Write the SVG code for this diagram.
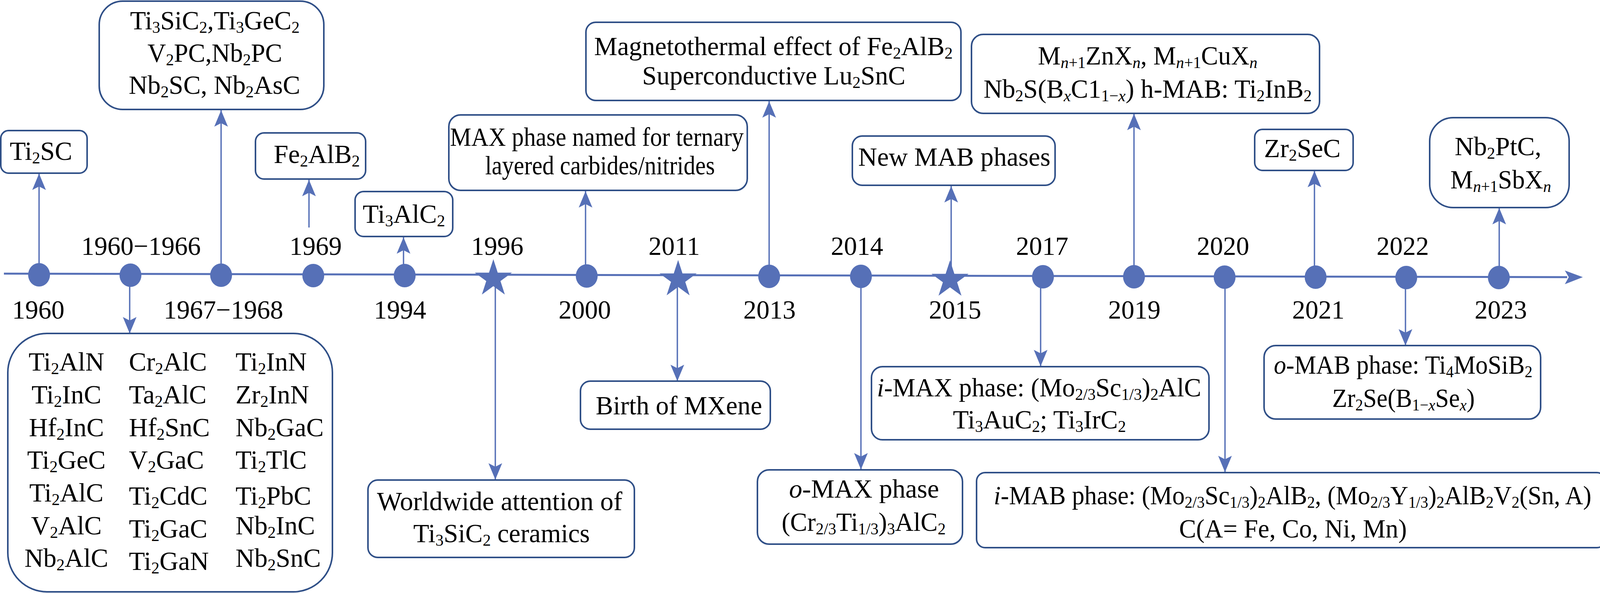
<svg xmlns="http://www.w3.org/2000/svg" xmlns:xlink="http://www.w3.org/1999/xlink" width="4116" height="1517" viewBox="0 0 4116 1517">
<style>
text{font-family:"Liberation Serif","Times New Roman",serif;font-size:67px;fill:#000}
.m{text-anchor:middle}
.s{font-size:42px;baseline-shift:-9px}
.i{font-style:italic}
.box{fill:#fff;stroke:#2F4F87;stroke-width:4}
.con{stroke:#5670B7;stroke-width:3.5;fill:none}
.up{marker-end:url(#ah)}
.dot{fill:#5670B7}
</style>
<defs>
<marker id="ah" markerUnits="userSpaceOnUse" markerWidth="50" markerHeight="40" viewBox="-44 -20 46 40" refX="0" refY="0" orient="auto">
<path d="M0,0 L-42,-17.5 L-33,0 L-42,17.5 Z" fill="#5670B7"/>
</marker>
<path id="star" d="M0,-50 L11.2,-15.5 L47.6,-15.5 L18.2,5.9 L29.4,40.5 L0,19.1 L-29.4,40.5 L-18.2,5.9 L-47.6,-15.5 L-11.2,-15.5 Z" fill="#5670B7"/>
</defs>
<rect width="4116" height="1517" fill="#fff"/>

<g id="connectors">
<line class="con up" x1="100" y1="700" x2="100" y2="444"/>
<line class="con up" x1="566" y1="700" x2="566" y2="282"/>
<line class="con up" x1="791" y1="582" x2="791" y2="460"/>
<line class="con up" x1="1033" y1="702" x2="1033" y2="607"/>
<line class="con up" x1="1499" y1="703" x2="1499" y2="489"/>
<line class="con up" x1="1969" y1="704" x2="1969" y2="259"/>
<line class="con up" x1="2435" y1="705" x2="2435" y2="476"/>
<line class="con up" x1="2903" y1="706" x2="2903" y2="291"/>
<line class="con up" x1="3365" y1="707" x2="3365" y2="437"/>
<line class="con up" x1="3838" y1="708" x2="3838" y2="532"/>
<line class="con up" x1="332" y1="701" x2="332" y2="853"/>
<line class="con up" x1="1268" y1="710" x2="1268" y2="1227"/>
<line class="con up" x1="1734" y1="712" x2="1734" y2="975"/>
<line class="con up" x1="2204" y1="705" x2="2204" y2="1201"/>
<line class="con up" x1="2664" y1="706" x2="2664" y2="937"/>
<line class="con up" x1="3136" y1="707" x2="3136" y2="1208"/>
<line class="con up" x1="3598" y1="708" x2="3598" y2="884"/>
</g>

<g id="axis">
<line x1="10" y1="700" x2="4012" y2="709" stroke="#5670B7" stroke-width="5"/>
<path d="M4052,709 L4006,692 L4016,709 L4006,727 Z" fill="#5670B7"/>
<ellipse class="dot" cx="100" cy="703" rx="28" ry="30"/>
<ellipse class="dot" cx="334" cy="704" rx="28" ry="30"/>
<ellipse class="dot" cx="566" cy="704" rx="28" ry="30"/>
<ellipse class="dot" cx="802" cy="705" rx="28" ry="30"/>
<ellipse class="dot" cx="1036" cy="705" rx="28" ry="30"/>
<use xlink:href="#star" x="1263" y="713"/>
<ellipse class="dot" cx="1502" cy="706" rx="28" ry="30"/>
<use xlink:href="#star" x="1736" y="715"/>
<ellipse class="dot" cx="1969" cy="707" rx="28" ry="30"/>
<ellipse class="dot" cx="2204" cy="707" rx="28" ry="30"/>
<use xlink:href="#star" x="2432" y="716"/>
<ellipse class="dot" cx="2670" cy="708" rx="28" ry="30"/>
<ellipse class="dot" cx="2903" cy="708" rx="28" ry="30"/>
<ellipse class="dot" cx="3135" cy="709" rx="28" ry="30"/>
<ellipse class="dot" cx="3368" cy="709" rx="28" ry="30"/>
<ellipse class="dot" cx="3600" cy="710" rx="28" ry="30"/>
<ellipse class="dot" cx="3837" cy="710" rx="28" ry="30"/>
</g>

<g id="years">
<text class="m" x="361" y="652">1960−1966</text>
<text class="m" x="808" y="652">1969</text>
<text class="m" x="1273" y="652">1996</text>
<text class="m" x="1726" y="652">2011</text>
<text class="m" x="2194" y="652">2014</text>
<text class="m" x="2668" y="652">2017</text>
<text class="m" x="3131" y="652">2020</text>
<text class="m" x="3591" y="652">2022</text>
<text class="m" x="98" y="815">1960</text>
<text class="m" x="572" y="815">1967−1968</text>
<text class="m" x="1024" y="815">1994</text>
<text class="m" x="1497" y="815">2000</text>
<text class="m" x="1970" y="815">2013</text>
<text class="m" x="2445" y="815">2015</text>
<text class="m" x="2904" y="815">2019</text>
<text class="m" x="3375" y="815">2021</text>
<text class="m" x="3842" y="815">2023</text>
</g>

<g id="n-ti2sc">
<rect class="box" x="2" y="334" width="221" height="109" rx="20"/>
<text class="m" x="105" y="409">Ti<tspan class="s">2</tspan>SC</text>
</g>

<g id="n-1967">
<rect class="box" x="254" y="3" width="575" height="277" rx="60"/>
<text class="m" x="550" y="75" textLength="434" lengthAdjust="spacingAndGlyphs">Ti<tspan class="s">3</tspan>SiC<tspan class="s">2</tspan>,Ti<tspan class="s">3</tspan>GeC<tspan class="s">2</tspan></text>
<text class="m" x="550" y="158" textLength="345" lengthAdjust="spacingAndGlyphs">V<tspan class="s">2</tspan>PC,Nb<tspan class="s">2</tspan>PC</text>
<text class="m" x="549" y="240" textLength="439" lengthAdjust="spacingAndGlyphs">Nb<tspan class="s">2</tspan>SC, Nb<tspan class="s">2</tspan>AsC</text>
</g>

<g id="n-fe2alb2">
<rect class="box" x="654" y="340" width="282" height="118" rx="22"/>
<text class="m" x="811" y="417">Fe<tspan class="s">2</tspan>AlB<tspan class="s">2</tspan></text>
</g>

<g id="n-ti3alc2">
<rect class="box" x="909" y="490" width="250" height="115" rx="22"/>
<text class="m" x="1034" y="570">Ti<tspan class="s">3</tspan>AlC<tspan class="s">2</tspan></text>
</g>

<g id="n-max">
<rect class="box" x="1149" y="294" width="764" height="193" rx="30"/>
<text class="m" x="1528" y="373" textLength="752" lengthAdjust="spacingAndGlyphs">MAX phase named for ternary</text>
<text class="m" x="1536" y="446" textLength="588" lengthAdjust="spacingAndGlyphs">layered carbides/nitrides</text>
</g>

<g id="n-magneto">
<rect class="box" x="1500" y="57" width="960" height="200" rx="25"/>
<text class="m" x="1980" y="141" textLength="918" lengthAdjust="spacingAndGlyphs">Magnetothermal effect of Fe<tspan class="s">2</tspan>AlB<tspan class="s">2</tspan></text>
<text class="m" x="1981" y="216" textLength="674" lengthAdjust="spacingAndGlyphs">Superconductive Lu<tspan class="s">2</tspan>SnC</text>
</g>

<g id="n-newmab">
<rect class="box" x="2182" y="348" width="519" height="126" rx="25"/>
<text class="m" x="2443" y="424" textLength="492" lengthAdjust="spacingAndGlyphs">New MAB phases</text>
</g>

<g id="n-2019">
<rect class="box" x="2487" y="88" width="891" height="202" rx="30"/>
<text class="m" x="2938" y="165" textLength="562" lengthAdjust="spacingAndGlyphs">M<tspan class="s"><tspan class="i">n</tspan>+1</tspan>ZnX<tspan class="s i">n</tspan>, M<tspan class="s"><tspan class="i">n</tspan>+1</tspan>CuX<tspan class="s i">n</tspan></text>
<text class="m" x="2938" y="250" textLength="840" lengthAdjust="spacingAndGlyphs">Nb<tspan class="s">2</tspan>S(B<tspan class="s i">x</tspan>C1<tspan class="s">1−<tspan class="i">x</tspan></tspan>) h-MAB: Ti<tspan class="s">2</tspan>InB<tspan class="s">2</tspan></text>
</g>

<g id="n-zr2sec">
<rect class="box" x="3212" y="331" width="252" height="105" rx="20"/>
<text class="m" x="3334" y="402">Zr<tspan class="s">2</tspan>SeC</text>
</g>

<g id="n-2023">
<rect class="box" x="3660" y="301" width="357" height="230" rx="60"/>
<text class="m" x="3835" y="397" textLength="222" lengthAdjust="spacingAndGlyphs">Nb<tspan class="s">2</tspan>PtC,</text>
<text class="m" x="3842" y="482" textLength="258" lengthAdjust="spacingAndGlyphs">M<tspan class="s"><tspan class="i">n</tspan>+1</tspan>SbX<tspan class="s i">n</tspan></text>
</g>

<g id="n-1960-66">
<rect class="box" x="20" y="853" width="831" height="661" rx="100"/>
<text class="m" x="170" y="948">Ti<tspan class="s">2</tspan>AlN</text>
<text class="m" x="170" y="1032">Ti<tspan class="s">2</tspan>InC</text>
<text class="m" x="170" y="1116">Hf<tspan class="s">2</tspan>InC</text>
<text class="m" x="170" y="1199">Ti<tspan class="s">2</tspan>GeC</text>
<text class="m" x="170" y="1283">Ti<tspan class="s">2</tspan>AlC</text>
<text class="m" x="170" y="1367">V<tspan class="s">2</tspan>AlC</text>
<text class="m" x="170" y="1450">Nb<tspan class="s">2</tspan>AlC</text>
<text x="330" y="948">Cr<tspan class="s">2</tspan>AlC</text>
<text x="330" y="1032">Ta<tspan class="s">2</tspan>AlC</text>
<text x="330" y="1116">Hf<tspan class="s">2</tspan>SnC</text>
<text x="330" y="1199">V<tspan class="s">2</tspan>GaC</text>
<text x="330" y="1291">Ti<tspan class="s">2</tspan>CdC</text>
<text x="330" y="1375">Ti<tspan class="s">2</tspan>GaC</text>
<text x="330" y="1458">Ti<tspan class="s">2</tspan>GaN</text>
<text x="603" y="948">Ti<tspan class="s">2</tspan>InN</text>
<text x="603" y="1032">Zr<tspan class="s">2</tspan>InN</text>
<text x="603" y="1116">Nb<tspan class="s">2</tspan>GaC</text>
<text x="603" y="1199">Ti<tspan class="s">2</tspan>TlC</text>
<text x="603" y="1291">Ti<tspan class="s">2</tspan>PbC</text>
<text x="603" y="1367">Nb<tspan class="s">2</tspan>InC</text>
<text x="603" y="1450">Nb<tspan class="s">2</tspan>SnC</text>
</g>

<g id="n-worldwide">
<rect class="box" x="942" y="1228" width="682" height="198" rx="25"/>
<text class="m" x="1279" y="1305" textLength="628" lengthAdjust="spacingAndGlyphs">Worldwide attention of</text>
<text class="m" x="1284" y="1387" textLength="452" lengthAdjust="spacingAndGlyphs">Ti<tspan class="s">3</tspan>SiC<tspan class="s">2</tspan> ceramics</text>
</g>

<g id="n-mxene">
<rect class="box" x="1486" y="975" width="486" height="123" rx="25"/>
<text class="m" x="1738" y="1060" textLength="426" lengthAdjust="spacingAndGlyphs">Birth of MXene</text>
</g>

<g id="n-omax">
<rect class="box" x="1939" y="1202" width="525" height="190" rx="30"/>
<text class="m" x="2212" y="1273" textLength="384" lengthAdjust="spacingAndGlyphs"><tspan class="i">o</tspan>-MAX phase</text>
<text class="m" x="2211" y="1358" textLength="420" lengthAdjust="spacingAndGlyphs">(Cr<tspan class="s">2/3</tspan>Ti<tspan class="s">1/3</tspan>)<tspan class="s">3</tspan>AlC<tspan class="s">2</tspan></text>
</g>

<g id="n-imax">
<rect class="box" x="2231" y="938" width="864" height="187" rx="28"/>
<text class="m" x="2660" y="1014" textLength="830" lengthAdjust="spacingAndGlyphs"><tspan class="i">i</tspan>-MAX phase: (Mo<tspan class="s">2/3</tspan>Sc<tspan class="s">1/3</tspan>)<tspan class="s">2</tspan>AlC</text>
<text class="m" x="2661" y="1096" textLength="443" lengthAdjust="spacingAndGlyphs">Ti<tspan class="s">3</tspan>AuC<tspan class="s">2</tspan>; Ti<tspan class="s">3</tspan>IrC<tspan class="s">2</tspan></text>
</g>

<g id="n-imab">
<rect class="box" x="2500" y="1209" width="1610" height="192" rx="22"/>
<text class="m" x="3309" y="1290" textLength="1530" lengthAdjust="spacingAndGlyphs"><tspan class="i">i</tspan>-MAB phase: (Mo<tspan class="s">2/3</tspan>Sc<tspan class="s">1/3</tspan>)<tspan class="s">2</tspan>AlB<tspan class="s">2</tspan>, (Mo<tspan class="s">2/3</tspan>Y<tspan class="s">1/3</tspan>)<tspan class="s">2</tspan>AlB<tspan class="s">2</tspan>V<tspan class="s">2</tspan>(Sn, A)</text>
<text class="m" x="3310" y="1375" textLength="583" lengthAdjust="spacingAndGlyphs">C(A= Fe, Co, Ni, Mn)</text>
</g>

<g id="n-omab">
<rect class="box" x="3236" y="884" width="708" height="188" rx="30"/>
<text class="m" x="3592" y="956" textLength="662" lengthAdjust="spacingAndGlyphs"><tspan class="i">o</tspan>-MAB phase: Ti<tspan class="s">4</tspan>MoSiB<tspan class="s">2</tspan></text>
<text class="m" x="3593" y="1041" textLength="365" lengthAdjust="spacingAndGlyphs">Zr<tspan class="s">2</tspan>Se(B<tspan class="s">1−<tspan class="i">x</tspan></tspan>Se<tspan class="s i">x</tspan>)</text>
</g>
</svg>
